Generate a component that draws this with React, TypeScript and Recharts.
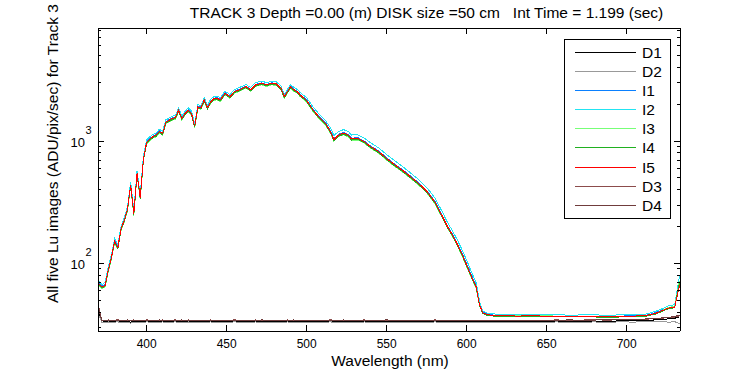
import React from "react";
import { LineChart, Line, XAxis, YAxis, Legend } from "recharts";

const FONT = "'Liberation Sans', Arial, Helvetica, sans-serif";

// wavelength grid (nm), shared by all nine traces
const wavelength = [
  370, 372, 374, 376, 378, 380, 382, 384, 386, 388, 390, 392, 394, 396, 398, 400, 402, 404,
  406, 408, 410, 412, 414, 416, 418, 420, 422, 424, 426, 428, 430, 432, 434, 436, 438, 440,
  442, 444, 446, 449, 452, 455, 458, 462, 465, 468, 472, 475, 478, 481, 484, 486, 488, 490,
  492, 494, 496, 500, 504, 508, 512, 515, 517, 520, 523, 526, 528, 532, 536, 540, 545, 550,
  555, 560, 565, 570, 575, 580, 585, 588, 591, 594, 597, 600, 603, 606, 608, 610, 613, 618,
  625, 632, 640, 648, 656, 664, 672, 680, 688, 696, 704, 712, 718, 722, 726, 730, 733,
];

const d1 = [
  40, 34, 33.4, 33.8, 33.2, 33.6, 33.9, 33.3, 33.7, 33.5, 33.1, 33.8, 33.4, 33.6, 33.2, 33.9, 33.5, 33.3,
  33.7, 33.4, 33.8, 33.2, 33.6, 33.5, 33.9, 33.3, 33.6, 33.4, 33.8, 33.2, 33.5, 33.7, 33.3, 33.6, 33.4, 33.8,
  33.4, 33.7, 33.2, 33.6, 33.5, 33.9, 33.3, 33.6, 33.4, 33.8, 33.2, 33.5, 33.7, 33.4, 33.6, 33.3, 33.8, 33.5,
  33.2, 33.6, 33.4, 33.7, 33.3, 33.6, 33.5, 33.9, 33.4, 33.6, 33.2, 33.7, 33.5, 33.3, 33.8, 33.4, 33.6, 33.2,
  33.5, 33.7, 33.4, 33.6, 33.3, 33.8, 33.5, 33.4, 33.6, 33.3, 33.7, 33.5, 33.4, 33.6, 33.5, 33.3, 33.7, 33.4,
  33.6, 33.5, 33.6, 33.4, 33.7, 33.5, 33.6, 33.8, 33.6, 33.9, 34, 34.2, 34.5, 34.8, 35.2, 35.6, 36.5,
];
const d2 = [
  38, 33, 32.8, 33.2, 32.6, 33, 33.3, 32.7, 33.1, 32.9, 32.5, 33.2, 32.8, 33, 32.6, 33.3, 32.9, 32.7,
  33.1, 32.8, 33.2, 32.6, 33, 32.9, 33.3, 32.7, 33, 32.8, 33.2, 32.6, 32.9, 33.1, 32.7, 33, 32.8, 33.2,
  32.8, 33.1, 32.6, 33, 32.9, 33.3, 32.7, 33, 32.8, 33.2, 32.6, 32.9, 33.1, 32.8, 33, 32.7, 33.2, 32.9,
  32.6, 33, 32.8, 33.1, 32.7, 33, 32.9, 33.3, 32.8, 33, 32.6, 33.1, 32.9, 32.7, 33.2, 32.8, 33, 32.6,
  32.9, 33.1, 32.8, 33, 32.7, 33.2, 32.9, 32.8, 33, 32.7, 33.1, 32.9, 32.8, 33, 32.9, 32.7, 33.1, 32.8,
  33, 32.9, 33.1, 32.8, 33.2, 32.9, 33, 33.2, 32.9, 33.3, 33.1, 33.4, 33.2, 33.6, 33, 33.4, 32,
];
const i1 = [
  69, 65, 67, 90, 114, 155, 137, 195, 228, 280, 448, 260, 552, 350, 730, 985, 1050, 1100,
  1135, 1215, 1165, 1445, 1495, 1545, 1580, 1810, 1550, 1700, 1810, 1710, 1335, 1920, 1900, 2190, 1900, 2120,
  2240, 2260, 2190, 2480, 2330, 2560, 2650, 2810, 2650, 2900, 2990, 2900, 2990, 2960, 2720, 2330, 2560, 2810,
  2650, 2560, 2400, 2170, 1815, 1575, 1395, 1205, 1045, 1135, 1175, 1135, 1055, 1065, 1000, 910, 830, 730,
  648, 582, 516, 455, 394, 324, 243, 203, 174, 147, 122, 99, 80, 65, 47, 40, 38.5, 37.5,
  37.5, 37.5, 37, 37.5, 37, 37, 37, 37, 36.5, 37, 37.5, 37.5, 39.5, 41.5, 43.5, 44.5, 68,
];
const i2 = [
  72, 67, 70, 93, 118, 160, 142, 200, 236, 288, 462, 268, 570, 362, 755, 1020, 1085, 1135,
  1170, 1250, 1200, 1490, 1540, 1595, 1625, 1865, 1595, 1750, 1865, 1760, 1375, 1980, 1960, 2260, 1960, 2190,
  2310, 2330, 2260, 2560, 2400, 2640, 2740, 2900, 2740, 3000, 3090, 3000, 3090, 3060, 2810, 2400, 2640, 2900,
  2740, 2650, 2490, 2260, 1900, 1650, 1460, 1270, 1110, 1200, 1240, 1200, 1120, 1125, 1060, 965, 880, 775,
  690, 618, 548, 484, 418, 345, 260, 216, 186, 157, 130, 106, 85, 69, 49, 41, 39, 38.5,
  38, 38.5, 38, 38, 38.5, 37.5, 38, 38, 37.5, 38, 38.5, 38.5, 40.5, 42.5, 45, 46, 79,
];
const i3 = [
  66, 62, 64, 85, 108, 147, 131, 186, 218, 266, 426, 246, 528, 334, 698, 945, 1008, 1057,
  1086, 1164, 1115, 1387, 1435, 1484, 1513, 1736, 1484, 1630, 1736, 1640, 1280, 1843, 1824, 2105, 1824, 2037,
  2153, 2173, 2105, 2386, 2240, 2464, 2551, 2706, 2551, 2794, 2881, 2794, 2881, 2852, 2619, 2240, 2464, 2706,
  2551, 2464, 2309, 2086, 1746, 1513, 1339, 1154, 999, 1086, 1125, 1086, 1009, 1019, 960, 873, 795, 698,
  621, 558, 495, 437, 378, 310, 233, 194, 167, 141, 116, 94, 76, 62, 45, 39.5, 38, 37.5,
  37.5, 37.5, 37, 37.5, 37, 37, 36.5, 37, 36.5, 37, 37, 37.5, 39, 41, 43.5, 44.5, 72,
];
const i4 = [
  67, 63, 65, 86, 110, 149, 132, 188, 220, 270, 431, 250, 534, 338, 706, 955, 1019, 1068,
  1098, 1176, 1127, 1401, 1450, 1499, 1529, 1754, 1499, 1646, 1754, 1656, 1294, 1862, 1842, 2127, 1842, 2058,
  2176, 2195, 2127, 2411, 2264, 2489, 2577, 2734, 2577, 2822, 2911, 2822, 2911, 2881, 2646, 2264, 2489, 2734,
  2577, 2489, 2332, 2107, 1764, 1529, 1352, 1166, 1009, 1098, 1137, 1098, 1019, 1029, 970, 882, 804, 706,
  627, 564, 500, 441, 382, 314, 235, 196, 169, 142, 118, 95, 77, 63, 45.5, 39, 37.5, 37,
  37, 37, 36.5, 37, 36.5, 36.5, 36.5, 36.5, 36, 36.5, 37, 37, 38.5, 40.5, 42.5, 43.5, 70,
];
const i5 = [
  68, 64, 66, 88, 112, 152, 135, 192, 225, 275, 440, 255, 545, 345, 720, 975, 1040, 1090,
  1120, 1200, 1150, 1430, 1480, 1530, 1560, 1790, 1530, 1680, 1790, 1690, 1320, 1900, 1880, 2170, 1880, 2100,
  2220, 2240, 2170, 2460, 2310, 2540, 2630, 2790, 2630, 2880, 2970, 2880, 2970, 2940, 2700, 2310, 2540, 2790,
  2630, 2540, 2380, 2150, 1800, 1560, 1380, 1190, 1030, 1120, 1160, 1120, 1040, 1050, 990, 900, 820, 720,
  640, 575, 510, 450, 390, 320, 240, 200, 172, 145, 120, 97, 78, 64, 46, 39.5, 38, 37.5,
  37.5, 37, 37.5, 37, 37, 36.5, 37, 37, 36.5, 37, 37, 37.5, 39, 41, 43, 44, 66,
];
const d3 = [
  44, 34.3, 34, 34.5, 33.9, 34.3, 34.6, 34, 34.4, 34.2, 33.8, 34.5, 34.1, 34.3, 33.9, 34.6, 34.2, 34,
  34.4, 34.1, 34.5, 33.9, 34.3, 34.2, 34.6, 34, 34.3, 34.1, 34.5, 33.9, 34.2, 34.4, 34, 34.3, 34.1, 34.5,
  34.1, 34.4, 33.9, 34.3, 34.2, 34.6, 34, 34.3, 34.1, 34.5, 33.9, 34.2, 34.4, 34.1, 34.3, 34, 34.5, 34.2,
  33.9, 34.3, 34.1, 34.4, 34, 34.3, 34.2, 34.6, 34.1, 34.3, 33.9, 34.4, 34.2, 34, 34.5, 34.1, 34.3, 33.9,
  34.2, 34.4, 34.1, 34.3, 34, 34.5, 34.2, 34.1, 34.3, 34, 34.4, 34.2, 34.1, 34.3, 34.2, 34, 34.4, 34.1,
  34.3, 34.2, 34.4, 34.1, 34.5, 34.2, 34.4, 34.6, 34.3, 34.7, 34.8, 35, 35.3, 35.6, 36, 36.4, 37.2,
];
const d4 = [
  43, 34, 34.2, 33.8, 34.4, 34, 33.9, 34.3, 34.1, 34.5, 33.9, 34.2, 34.4, 34, 34.3, 33.8, 34.4, 34.1,
  34.2, 34.5, 33.9, 34.3, 34, 34.4, 33.9, 34.2, 34.5, 34, 34.3, 34.1, 34.4, 33.9, 34.2, 34, 34.4, 34.1,
  34.3, 34, 34.4, 34.1, 34.2, 33.9, 34.4, 34.1, 34.3, 34, 34.5, 34.2, 33.9, 34.3, 34.1, 34.4, 34, 34.2,
  34.5, 34.1, 34.3, 34, 34.4, 34.1, 34.2, 33.9, 34.3, 34.1, 34.5, 34, 34.2, 34.4, 34, 34.3, 34.1, 34.5,
  34.2, 34, 34.3, 34.1, 34.4, 34, 34.2, 34.3, 34.1, 34.4, 34, 34.2, 34.3, 34.1, 34.2, 34.4, 34, 34.3,
  34.1, 34.3, 34.1, 34.4, 34.2, 34.5, 34.3, 34.4, 34.7, 34.5, 34.9, 35.1, 35.4, 35.8, 36.2, 36.8, 37.8,
];

const seriesNames = ["D1", "D2", "I1", "I2", "I3", "I4", "I5", "D3", "D4"];
const seriesColors = ["#000000", "#999999", "#0a80ff", "#22e4f2", "#77ff77", "#20b020", "#ff0000", "#8c4c4c", "#703c3c"];
const seriesValues = [d1, d2, i1, i2, i3, i4, i5, d3, d4];

const xTicks = [400, 450, 500, 550, 600, 650, 700];
const yTicks = [30, 40, 50, 60, 70, 80, 90, 100, 200, 300, 400, 500, 600, 700, 800, 900, 1000, 2000, 3000, 4000, 5000, 6000, 7000, 8000];
const yMajor = [100, 1000];

const rows = wavelength.map((w, i) => {
  const r: any = { w };
  seriesNames.forEach((n, k) => (r[n] = seriesValues[k][i]));
  return r;
});

const BottomTick = ({ x, y, payload }: any) => (
  <g>
    <line x1={x} y1={y} x2={x} y2={y - 6} stroke="#000" shapeRendering="crispEdges" />
    <text x={x} y={y + 17} textAnchor="middle" fontSize={12} fontFamily={FONT} fill="#000">
      {payload.value}
    </text>
  </g>
);

const TopTick = ({ x, y }: any) => (
  <line x1={x} y1={y} x2={x} y2={y + 6} stroke="#000" shapeRendering="crispEdges" />
);

const LeftTick = ({ x, y, payload }: any) => {
  const major = yMajor.includes(payload.value);
  return (
    <g>
      <line x1={x} y1={y} x2={x + (major ? 6 : 3)} y2={y} stroke="#000" shapeRendering="crispEdges" />
      {major && (
        <g fontFamily={FONT} fill="#000">
          <text x={x - 13} y={y + 6} textAnchor="end" fontSize={13}>10</text>
          <text x={x - 12.5} y={y - 7} fontSize={11}>{Math.round(Math.log10(payload.value))}</text>
        </g>
      )}
    </g>
  );
};

const RightTick = ({ x, y, payload }: any) => {
  const major = yMajor.includes(payload.value);
  return <line x1={x} y1={y} x2={x - (major ? 6 : 3)} y2={y} stroke="#000" shapeRendering="crispEdges" />;
};

const LegendBox = ({ payload }: any) => {
  const items = [...(payload || [])].sort(
    (a: any, b: any) => seriesNames.indexOf(a.value) - seriesNames.indexOf(b.value)
  );
  return (
    <svg width={107} height={180} style={{ display: "block" }}>
      <rect x={0.5} y={0.5} width={106} height={179} fill="#fff" stroke="#000" />
      {items.map((it: any, i: number) => {
        const cy = Math.round(12.7 + i * 19.15) + 0.5;
        return (
          <g key={it.value}>
            <line x1={11} x2={72} y1={cy} y2={cy} stroke={seriesColors[seriesNames.indexOf(it.value)]} strokeWidth={1} />
            <text x={78} y={cy + 5.5} fontSize={15.5} fontFamily={FONT} fill="#000">
              {it.value}
            </text>
          </g>
        );
      })}
    </svg>
  );
};

export default function App() {
  return (
    <div style={{ position: "absolute", left: 0, top: 0, width: 750, height: 375, background: "#fff" }}>
      <LineChart width={750} height={375} data={rows} margin={{ top: 18, right: 60, bottom: 0, left: 38 }}>
        <XAxis
          dataKey="w"
          type="number"
          domain={[369.6, 733.3]}
          allowDataOverflow
          ticks={xTicks}
          interval={0}
          height={44}
          tickSize={0}
          tickMargin={0}
          axisLine={{ stroke: "#000", shapeRendering: "crispEdges" }}
          tick={<BottomTick />}
        />
        <XAxis
          xAxisId="top"
          orientation="top"
          dataKey="w"
          type="number"
          domain={[369.6, 733.3]}
          allowDataOverflow
          ticks={xTicks}
          interval={0}
          height={10}
          tickSize={0}
          tickMargin={0}
          axisLine={{ stroke: "#000", shapeRendering: "crispEdges" }}
          tick={<TopTick />}
        />
        <YAxis
          scale="log"
          type="number"
          domain={[28, 8400]}
          allowDataOverflow
          ticks={yTicks}
          interval={0}
          width={60}
          tickSize={0}
          tickMargin={0}
          axisLine={{ stroke: "#000", shapeRendering: "crispEdges" }}
          tick={<LeftTick />}
        />
        <YAxis
          yAxisId="right"
          orientation="right"
          scale="log"
          type="number"
          domain={[28, 8400]}
          allowDataOverflow
          ticks={yTicks}
          interval={0}
          width={10}
          tickSize={0}
          tickMargin={0}
          axisLine={{ stroke: "#000", shapeRendering: "crispEdges" }}
          tick={<RightTick />}
        />
        <Legend
          layout="vertical"
          align="center"
          verticalAlign="middle"
          wrapperStyle={{ position: "absolute", left: 564, top: 39, width: 107, height: 180 }}
          content={<LegendBox />}
        />
        {seriesNames.map((n, k) => (
          <Line
            key={n}
            dataKey={n}
            name={n}
            stroke={seriesColors[k]}
            strokeWidth={1}
            dot={false}
            type="linear"
            isAnimationActive={false}
            style={{ shapeRendering: "crispEdges" }}
          />
        ))}
      </LineChart>
      <svg
        width={750}
        height={375}
        style={{ position: "absolute", left: 0, top: 0, pointerEvents: "none" }}
        fontFamily={FONT}
        fill="#000"
      >
        <text x={426.5} y={18} textAnchor="middle" fontSize={15.5} xmlSpace="preserve">
          TRACK 3 Depth =0.00 (m) DISK size =50 cm   Int Time = 1.199 (sec)
        </text>
        <text x={390} y={366} textAnchor="middle" fontSize={15.5}>
          Wavelength (nm)
        </text>
        <text x={58} y={303} transform="rotate(-90 58 303)" fontSize={15.5}>
          All five Lu images (ADU/pix/sec) for Track 3
        </text>
      </svg>
    </div>
  );
}
